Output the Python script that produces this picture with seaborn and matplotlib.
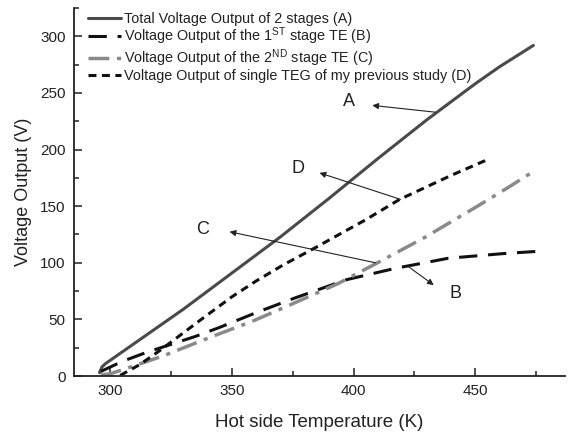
import matplotlib
matplotlib.use("Agg")
import matplotlib.pyplot as plt
import seaborn as sns
import pandas as pd
from matplotlib.ticker import MultipleLocator

# ---- data ----
temp_A = [295.5, 296.5, 298, 310, 330, 350, 370, 390, 410, 430, 450, 460, 474]
volt_A = [3, 8, 11, 29, 59, 91, 123, 157, 192, 226, 258, 273, 292]

temp_B = [296, 300, 305, 315, 325, 335, 345, 360, 376, 397, 417, 439, 461, 475]
volt_B = [4, 8, 13, 21, 28, 35, 43, 56, 69, 85, 95, 104, 108, 110]

temp_C = [296, 300, 307, 322, 342, 358, 372, 394, 409, 429, 451, 464, 475]
volt_C = [1, 2, 7, 18, 35, 48, 61, 82, 99, 122, 150, 167, 182]

temp_D = [304, 312, 320, 338, 350, 360, 371, 384, 405, 419, 440, 455]
volt_D = [0.5, 10, 22, 51, 70, 84, 98, 113, 138, 156, 177, 191]

labels = [
    "Total Voltage Output of 2 stages (A)",
    "Voltage Output of the 1$^{\\mathrm{ST}}$ stage TE (B)",
    "Voltage Output of the 2$^{\\mathrm{ND}}$ stage TE (C)",
    "Voltage Output of single TEG of my previous study (D)",
]
x_label = "Hot side Temperature (K)"
y_label = "Voltage Output (V)"

sns.set_style("ticks")
plt.rcParams["font.family"] = ["Liberation Sans", "DejaVu Sans"]
plt.rcParams["mathtext.fontset"] = "custom"
plt.rcParams["mathtext.rm"] = "Liberation Sans"
plt.rcParams["mathtext.it"] = "Liberation Sans:italic"
plt.rcParams["mathtext.bf"] = "Liberation Sans:bold"

fig = plt.figure(figsize=(5.72, 4.34), dpi=100)
ax = fig.add_axes([74 / 572, 58 / 434, 491 / 572, 368 / 434])

series = [
    (temp_A, volt_A, labels[0], "#4a4a4a", 2.2, "-"),
    (temp_B, volt_B, labels[1], "#111111", 2.2, (0, (6, 3.5))),
    (temp_C, volt_C, labels[2], "#8a8a8a", 2.5, (0, (6, 2.2, 1.2, 2.2))),
    (temp_D, volt_D, labels[3], "#111111", 2.2, (0, (2.6, 1.8))),
]
for tx, vy, lab, col, lw, ls in series:
    df = pd.DataFrame({"T": tx, "V": vy})
    sns.lineplot(data=df, x="T", y="V", ax=ax, color=col, lw=lw,
                 label=lab, sort=False, estimator=None)
    ax.lines[-1].set_linestyle(ls)

ax.set_xlim(285, 487)
ax.set_ylim(0, 325)
ax.xaxis.set_major_locator(MultipleLocator(50))
ax.xaxis.set_minor_locator(MultipleLocator(25))
ax.yaxis.set_major_locator(MultipleLocator(50))
ax.yaxis.set_minor_locator(MultipleLocator(25))
ax.tick_params(which="major", direction="in", length=6, width=1.1,
               labelsize=11, colors="#222222", pad=6)
ax.tick_params(which="minor", direction="in", length=3.5, width=1.1,
               colors="#222222")
for s in ["top", "right"]:
    ax.spines[s].set_visible(False)
for s in ["left", "bottom"]:
    ax.spines[s].set_linewidth(1.3)
    ax.spines[s].set_color("#222222")

ax.set_xlabel(x_label, fontsize=13.5, color="#222222", labelpad=11)
ax.set_ylabel(y_label, fontsize=13, color="#222222", labelpad=6)

leg = ax.legend(loc="upper left", bbox_to_anchor=(0.026, 0.994), frameon=False,
                fontsize=10.4, handlelength=2.3, handletextpad=0.2,
                labelspacing=0.0, borderaxespad=0, borderpad=0.1)
for t in leg.get_texts():
    t.set_color("#222222")

arrow = dict(arrowstyle="-|>", lw=0.8, color="#222222", mutation_scale=9,
             shrinkA=0, shrinkB=0)
ax.annotate("", xy=(407.7, 239), xytext=(433.6, 233), arrowprops=arrow)
ax.text(398, 242, "A", fontsize=13, ha="center", va="center", color="#222222")
ax.annotate("", xy=(386, 179.4), xytext=(419.3, 156), arrowprops=arrow)
ax.text(377, 183, "D", fontsize=13, ha="center", va="center", color="#222222")
ax.annotate("", xy=(349, 127.4), xytext=(409, 100), arrowprops=arrow)
ax.text(338, 129, "C", fontsize=13, ha="center", va="center", color="#222222")
ax.annotate("", xy=(433, 80.3), xytext=(422.7, 96.4), arrowprops=arrow)
ax.text(442, 73, "B", fontsize=13, ha="center", va="center", color="#222222")

fig.savefig("out.png", dpi=100)
